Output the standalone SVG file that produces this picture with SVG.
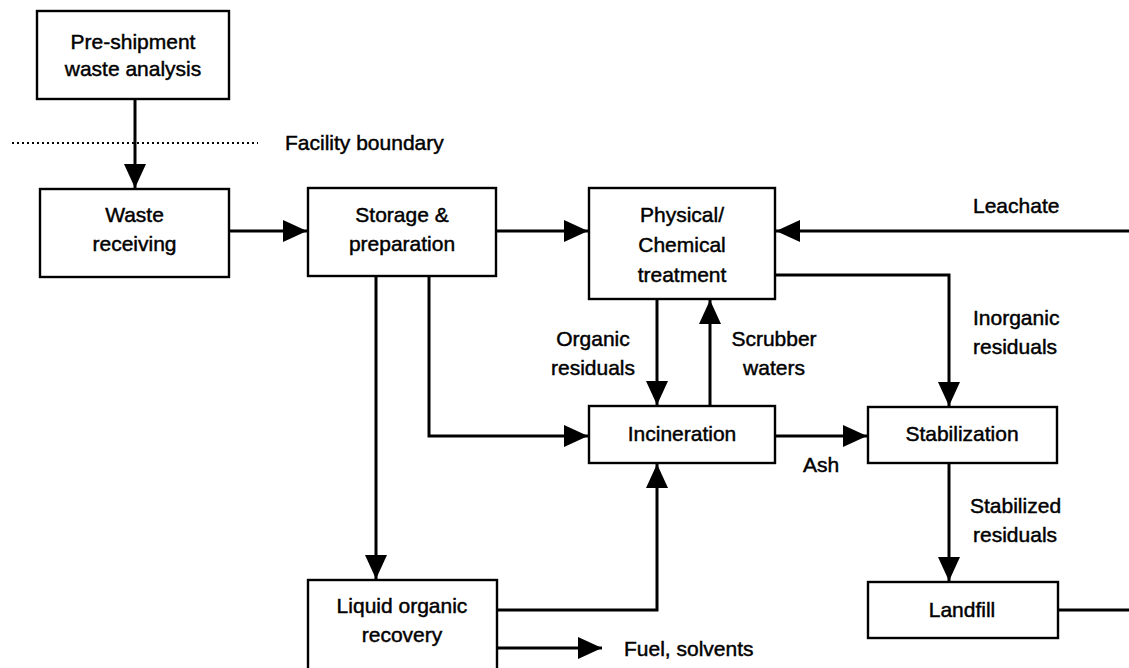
<svg xmlns="http://www.w3.org/2000/svg" width="1129" height="668" viewBox="0 0 1129 668">
<defs>
<style>
.box{fill:#fff;stroke:#000;stroke-width:2.4}
.t{font-family:"Liberation Sans",Arial,sans-serif;font-size:21px;fill:#000;stroke:#000;stroke-width:0.45}
.c{text-anchor:middle}
.ln{fill:none;stroke:#000;stroke-width:3}
.arr{marker-end:url(#ah)}
</style>
<marker id="ah" viewBox="0 0 24 22" refX="24" refY="11" markerWidth="24" markerHeight="22" orient="auto" markerUnits="userSpaceOnUse">
<path d="M0,0 L24,11 L0,22 z" fill="#000"/>
</marker>
</defs>
<rect width="1129" height="668" fill="#fff"/>

<g id="connectors">
<path class="ln arr" d="M135,99 V188"/>
<path class="ln arr" d="M229,231 H307"/>
<path class="ln arr" d="M496,231 H588"/>
<path class="ln arr" d="M1129,231 H776"/>
<path class="ln arr" d="M775,275 H949 V406"/>
<path class="ln arr" d="M657,299 V405"/>
<path class="ln arr" d="M710,406 V300"/>
<path class="ln arr" d="M429,276 V436 H588"/>
<path class="ln arr" d="M376,276 V579"/>
<path class="ln arr" d="M775,436 H867"/>
<path class="ln arr" d="M497,610 H657 V464"/>
<path class="ln arr" d="M497,648 H602"/>
<path class="ln arr" d="M949,463 V581"/>
<path class="ln" d="M1058,610 H1129"/>
<line x1="12" y1="143" x2="258" y2="143" stroke="#000" stroke-width="2" stroke-dasharray="2 3"/>
<text class="t" x="285" y="150">Facility boundary</text>
<text class="t" x="973" y="213">Leachate</text>
<text class="t" x="973" y="325">Inorganic</text>
<text class="t" x="973" y="354">residuals</text>
<text class="t c" x="593" y="346">Organic</text>
<text class="t c" x="593" y="375">residuals</text>
<text class="t c" x="774" y="346">Scrubber</text>
<text class="t c" x="774" y="375">waters</text>
<text class="t" x="803" y="472">Ash</text>
<text class="t" x="970" y="513">Stabilized</text>
<text class="t" x="973" y="542">residuals</text>
<text class="t" x="624" y="656">Fuel, solvents</text>
</g>

<g id="preshipment">
<rect class="box" x="37" y="11" width="192" height="88"/>
<text class="t c" x="133" y="49">Pre-shipment</text>
<text class="t c" x="133" y="76">waste analysis</text>
</g>

<g id="receiving">
<rect class="box" x="40" y="189" width="189" height="88"/>
<text class="t c" x="134.5" y="222">Waste</text>
<text class="t c" x="134.5" y="251">receiving</text>
</g>

<g id="storage">
<rect class="box" x="308" y="188" width="188" height="88"/>
<text class="t c" x="402" y="222">Storage &amp;</text>
<text class="t c" x="402" y="251">preparation</text>
</g>

<g id="physical">
<rect class="box" x="589" y="188" width="186" height="111"/>
<text class="t c" x="682" y="222">Physical/</text>
<text class="t c" x="682" y="252">Chemical</text>
<text class="t c" x="682" y="282">treatment</text>
</g>

<g id="incineration">
<rect class="box" x="589" y="406" width="186" height="57"/>
<text class="t c" x="682" y="441">Incineration</text>
</g>

<g id="stabilization">
<rect class="box" x="868" y="407" width="189" height="56"/>
<text class="t c" x="962" y="441">Stabilization</text>
</g>

<g id="liquid">
<rect class="box" x="308" y="580" width="189" height="95"/>
<text class="t c" x="402" y="613">Liquid organic</text>
<text class="t c" x="402" y="642">recovery</text>
</g>

<g id="landfill">
<rect class="box" x="868" y="582" width="190" height="56"/>
<text class="t c" x="962" y="617">Landfill</text>
</g>
</svg>
